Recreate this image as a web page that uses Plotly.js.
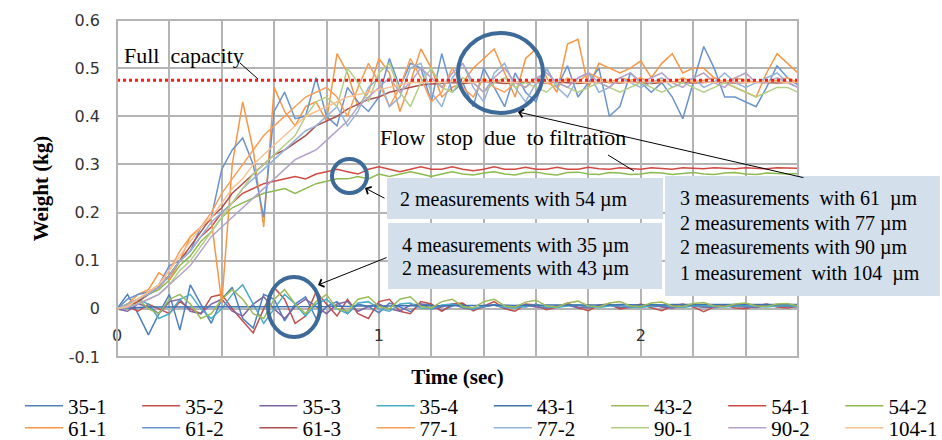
<!DOCTYPE html>
<html>
<head>
<meta charset="utf-8">
<script src="https://cdn.plot.ly/plotly-3.0.1.min.js"></script>
<style>html,body{margin:0;padding:0;background:#fff;}#chart{width:942px;height:440px;}</style>
</head>
<body>
<div id="chart"></div>
<script>
// ---------------- DATA ----------------
const timeSec = [
0,0.04,0.08,0.12,0.16,0.2,0.24,0.28,0.32,0.36,
0.4,0.44,0.48,0.52,0.56,0.6,0.64,0.68,0.72,0.76,
0.8,0.84,0.88,0.92,0.96,1,1.04,1.08,1.12,1.16,
1.2,1.24,1.28,1.32,1.36,1.4,1.44,1.48,1.52,1.56,
1.6,1.64,1.68,1.72,1.76,1.8,1.84,1.88,1.92,1.96,
2,2.04,2.08,2.12,2.16,2.2,2.24,2.28,2.32,2.36,
2.4,2.44,2.48,2.52,2.56,2.6];

const seriesNames = ['35-1','35-2','35-3','35-4','43-1','43-2','54-1','54-2',
                     '61-1','61-2','61-3','77-1','77-2','90-1','90-2','104-1'];

const w35_1 = [
0,0.03,-0.01,-0.054,-0.01,0.03,-0.044,0.05,0.01,-0.03,
0.02,0.045,-0.02,-0.04,0.03,0.02,-0.025,0.01,0.025,-0.02,
0.005,0.015,-0.01,0.01,0.005,-0.008,0.012,0.004,-0.006,0.01,
0.008,-0.004,0.006,0.01,0.0,0.004,0.008,0.002,0.006,0.004,
0.01,0.002,0.006,0.008,0.002,0.006,0.004,0.008,0.002,0.005,
0.008,0.004,0.006,0.003,0.007,0.005,0.004,0.006,0.008,0.005,
0.004,0.007,0.006,0.005,0.008,0.006];
const w35_2 = [
0,0.005,-0.005,0.01,0.0,-0.01,0.015,0.0,-0.01,0.025,
0.03,0.0,-0.025,-0.05,0.0,0.044,0.02,-0.03,-0.015,0.035,
0.01,-0.015,0.02,-0.01,-0.02,0.015,0.02,-0.005,-0.01,0.015,
0.01,-0.005,0.01,0.012,-0.004,0.006,0.015,0.0,-0.005,0.01,
0.008,-0.002,0.004,0.012,0.002,-0.004,0.008,0.01,0.0,0.004,
0.01,0.002,-0.004,0.006,0.01,0.004,-0.006,0.004,0.008,0.002,
0.0,0.006,0.01,0.004,0.002,0.006];
const w35_3 = [
0,-0.005,0.01,0.005,-0.01,0.015,0.02,-0.005,-0.01,0.01,
0.02,-0.005,-0.015,0.01,0.025,0.0,-0.02,0.005,0.02,0.005,
-0.01,0.01,0.015,-0.005,0.005,0.01,0.0,-0.005,0.008,0.01,
0.0,0.004,0.01,0.002,-0.002,0.006,0.008,0.002,0.004,0.008,
0.004,0.002,0.006,0.008,0.004,0.002,0.006,0.008,0.004,0.003,
0.006,0.008,0.004,0.002,0.006,0.007,0.004,0.003,0.006,0.008,
0.004,0.003,0.006,0.007,0.005,0.004];
const w35_4 = [
0,0.01,0.02,0.01,-0.02,-0.01,0.02,0.03,0.0,-0.02,
0.0,0.03,0.05,0.01,-0.03,0.0,0.03,0.01,-0.015,0.01,
0.02,0.0,-0.01,0.012,0.015,0.0,-0.005,0.01,0.012,0.002,
0.0,0.008,0.01,0.004,0.0,0.006,0.008,0.004,0.002,0.006,
0.008,0.004,0.003,0.006,0.008,0.005,0.003,0.006,0.007,0.004,
0.003,0.006,0.008,0.005,0.003,0.006,0.007,0.005,0.004,0.006,
0.007,0.005,0.004,0.006,0.007,0.005];
const w43_1 = [
0,0.002,0.003,0.004,0.004,0.005,0.004,0.005,0.004,0.005,
0.005,0.004,0.005,0.004,0.005,0.005,0.004,0.005,0.005,0.004,
0.005,0.006,0.005,0.006,0.006,0.005,0.006,0.007,0.006,0.006,
0.007,0.006,0.007,0.007,0.006,0.007,0.008,0.007,0.007,0.008,
0.007,0.008,0.008,0.007,0.008,0.008,0.007,0.008,0.009,0.008,
0.008,0.009,0.008,0.009,0.009,0.008,0.009,0.009,0.008,0.009,
0.009,0.008,0.009,0.009,0.008,0.009];
const w43_2 = [
0,0.01,0.02,0.0,-0.01,0.02,0.03,0.01,-0.02,-0.01,
0.02,0.04,0.02,-0.01,-0.02,0.02,0.04,0.01,-0.01,0.015,
0.03,0.0,-0.005,0.02,0.025,0.005,0.0,0.02,0.025,0.005,
0.002,0.015,0.02,0.005,0.002,0.015,0.02,0.006,0.004,0.014,
0.018,0.006,0.004,0.012,0.016,0.006,0.004,0.012,0.015,0.006,
0.005,0.012,0.014,0.006,0.005,0.011,0.013,0.006,0.005,0.01,
0.012,0.006,0.005,0.01,0.011,0.006];
const w54_1 = [
0,0.005,0.02,0.03,0.045,0.07,0.10,0.12,0.15,0.17,
0.20,0.22,0.24,0.25,0.26,0.265,0.27,0.275,0.27,0.28,
0.285,0.29,0.285,0.28,0.29,0.295,0.29,0.285,0.29,0.295,
0.29,0.29,0.295,0.29,0.287,0.29,0.295,0.29,0.29,0.294,
0.29,0.29,0.294,0.29,0.29,0.294,0.291,0.29,0.293,0.292,
0.29,0.293,0.292,0.29,0.293,0.292,0.291,0.293,0.292,0.291,
0.293,0.292,0.291,0.293,0.292,0.292];
const w54_2 = [
0,0.003,0.015,0.03,0.04,0.06,0.09,0.11,0.14,0.16,
0.19,0.21,0.22,0.23,0.24,0.245,0.25,0.24,0.25,0.26,
0.265,0.27,0.27,0.275,0.27,0.28,0.275,0.28,0.285,0.28,
0.275,0.28,0.285,0.28,0.278,0.282,0.285,0.28,0.278,0.283,
0.284,0.28,0.278,0.283,0.284,0.28,0.279,0.283,0.282,0.279,
0.28,0.283,0.282,0.279,0.281,0.283,0.28,0.279,0.282,0.283,
0.28,0.279,0.282,0.281,0.28,0.281];
const w61_1 = [
0,0.01,0.03,0.04,0.075,0.06,0.10,0.15,0.17,0.185,
0.012,0.30,0.43,0.33,0.17,0.46,0.41,0.38,0.42,0.43,
0.39,0.53,0.49,0.42,0.45,0.52,0.49,0.41,0.47,0.54,
0.50,0.44,0.46,0.47,0.50,0.52,0.54,0.49,0.44,0.52,
0.54,0.48,0.45,0.55,0.56,0.46,0.51,0.50,0.49,0.50,
0.515,0.48,0.51,0.53,0.49,0.50,0.50,0.48,0.47,0.46,
0.45,0.44,0.49,0.53,0.51,0.49];
const w61_2 = [
0,0.02,0.03,0.035,0.05,0.09,0.10,0.12,0.17,0.19,
0.29,0.33,0.355,0.30,0.19,0.41,0.45,0.395,0.40,0.48,
0.40,0.38,0.46,0.43,0.41,0.44,0.52,0.46,0.51,0.50,
0.43,0.53,0.45,0.47,0.42,0.50,0.46,0.42,0.49,0.45,
0.43,0.50,0.46,0.505,0.44,0.47,0.50,0.40,0.42,0.49,
0.47,0.45,0.47,0.44,0.395,0.47,0.545,0.50,0.44,0.44,
0.43,0.42,0.46,0.505,0.48,0.465];
const w61_3 = [
0,0.005,0.015,0.03,0.045,0.07,0.10,0.13,0.16,0.19,
0.21,0.24,0.26,0.28,0.30,0.32,0.33,0.345,0.36,0.38,
0.39,0.40,0.415,0.425,0.435,0.44,0.45,0.455,0.46,0.465,
0.467,0.468,0.47,0.468,0.47,0.472,0.47,0.468,0.47,0.471,
0.47,0.469,0.471,0.47,0.468,0.47,0.472,0.47,0.469,0.471,
0.47,0.468,0.47,0.471,0.47,0.469,0.47,0.471,0.47,0.469,
0.47,0.471,0.47,0.469,0.47,0.47];
const w77_1 = [
0,0.005,0.02,0.035,0.05,0.08,0.12,0.15,0.17,0.20,
0.24,0.27,0.30,0.33,0.36,0.38,0.40,0.42,0.44,0.45,
0.46,0.44,0.40,0.46,0.51,0.47,0.42,0.46,0.52,0.48,
0.43,0.45,0.50,0.46,0.44,0.48,0.46,0.45,0.47,0.46,
0.48,0.47,0.46,0.48,0.47,0.49,0.48,0.47,0.48,0.475,
0.48,0.47,0.475,0.47,0.48,0.47,0.475,0.48,0.47,0.48,
0.475,0.47,0.47,0.475,0.48,0.47];
const w77_2 = [
0,0.01,0.02,0.03,0.045,0.07,0.10,0.12,0.15,0.18,
0.20,0.22,0.25,0.27,0.29,0.31,0.33,0.35,0.37,0.38,
0.40,0.42,0.38,0.41,0.46,0.48,0.42,0.44,0.50,0.51,
0.45,0.42,0.48,0.51,0.46,0.43,0.49,0.51,0.46,0.43,
0.47,0.50,0.46,0.44,0.48,0.49,0.45,0.46,0.48,0.47,
0.46,0.47,0.48,0.46,0.47,0.48,0.46,0.47,0.49,0.47,
0.46,0.47,0.48,0.49,0.47,0.46];
const w90_1 = [
0,0.005,0.01,0.02,0.03,0.05,0.08,0.10,0.13,0.16,
0.19,0.22,0.25,0.28,0.30,0.32,0.34,0.36,0.40,0.43,
0.44,0.42,0.50,0.47,0.43,0.49,0.51,0.45,0.42,0.47,
0.50,0.46,0.45,0.48,0.47,0.45,0.47,0.48,0.46,0.47,
0.46,0.45,0.47,0.46,0.45,0.46,0.47,0.46,0.45,0.46,
0.47,0.46,0.45,0.46,0.47,0.46,0.45,0.46,0.47,0.46,
0.45,0.44,0.45,0.46,0.46,0.45];
const w90_2 = [
0,0.003,0.01,0.02,0.03,0.05,0.07,0.09,0.12,0.15,
0.17,0.19,0.21,0.23,0.25,0.27,0.29,0.31,0.32,0.33,
0.35,0.37,0.39,0.42,0.44,0.46,0.48,0.45,0.47,0.50,
0.48,0.46,0.49,0.51,0.47,0.45,0.48,0.50,0.47,0.46,
0.48,0.49,0.47,0.46,0.48,0.49,0.47,0.46,0.48,0.49,
0.47,0.48,0.49,0.47,0.46,0.48,0.49,0.47,0.46,0.48,
0.49,0.47,0.47,0.48,0.47,0.46];
const w104_1 = [
0,0.005,0.02,0.035,0.05,0.08,0.11,0.14,0.17,0.19,
0.22,0.25,0.27,0.30,0.32,0.34,0.36,0.38,0.40,0.41,
0.42,0.43,0.44,0.445,0.45,0.455,0.46,0.465,0.47,0.47,
0.472,0.47,0.473,0.471,0.47,0.472,0.474,0.471,0.47,0.473,
0.472,0.47,0.473,0.474,0.471,0.47,0.472,0.473,0.471,0.47,
0.472,0.473,0.471,0.47,0.472,0.474,0.471,0.47,0.473,0.472,
0.47,0.471,0.473,0.472,0.47,0.471];

const seriesValues = [w35_1,w35_2,w35_3,w35_4,w43_1,w43_2,w54_1,w54_2,
                      w61_1,w61_2,w61_3,w77_1,w77_2,w90_1,w90_2,w104_1];

const fullCapacity = 0.475;
const yTickVals = [-0.1,0,0.1,0.2,0.3,0.4,0.5,0.6];
const yTickText = ['-0.1','0','0.1','0.2','0.3','0.4','0.5','0.6'];
const xTickVals = [0,0.2,0.4,0.6,0.8,1,1.2,1.4,1.6,1.8,2,2.2,2.4,2.6];
const xTickText = ['0','','','','','1','','','','','2','','',''];

// ---------------- STYLE ----------------
const seriesColors = ['#4F81BD','#C0504D','#8064A2','#4BACC6','#3F72B0','#9BBB59','#CF4A45','#8DBA50',
                      '#F79646','#6A93CD','#A9514E','#F8A05A','#95B3D7','#B3CF86','#B3A2C7','#FAC090'];

const L = 117, R = 798, T = 20, B = 357;
const W = 942, H = 440;
const px = p => (p - L) / (R - L);
const py = p => (B - p) / (B - T);
const serif = 'Liberation Serif, Times New Roman, serif';
const gridCol = '#B4B4B4';

const traces = seriesValues.map((vals, j) => ({
  type: 'scatter', mode: 'lines', name: seriesNames[j],
  x: timeSec, y: vals,
  line: {color: seriesColors[j], width: 1.5},
  legend: j === 0 ? 'legend' : 'legend' + (j + 1),
  hoverinfo: 'skip'
}));
traces.push({
  type: 'scatter', mode: 'lines', name: 'Full capacity', showlegend: false,
  x: [timeSec[0], timeSec[timeSec.length - 1]], y: [fullCapacity, fullCapacity],
  line: {color: '#FF1A1A', width: 3, dash: 'dot'}, hoverinfo: 'skip'
});

const layout = {
  width: W, height: H,
  margin: {l: L, r: W - R, t: T, b: H - B, autoexpand: false},
  paper_bgcolor: '#fff', plot_bgcolor: '#fff',
  showlegend: true,
  xaxis: {
    range: [0, 2.6], tickmode: 'array', tickvals: xTickVals, ticktext: xTickText,
    anchor: 'free', position: 1 / 7, automargin: false,
    showgrid: true, gridcolor: gridCol, gridwidth: 2,
    zeroline: false, showline: false, ticks: '',
    ticklabelstandoff: 15,
    tickfont: {family: 'DejaVu Sans', size: 16, color: '#333'},
    title: {text: 'Time (sec)', font: {family: serif, size: 21, color: '#000', weight: 'bold'}, standoff: 25}
  },
  yaxis: {
    range: [-0.1, 0.6], tickmode: 'array', tickvals: yTickVals, ticktext: yTickText,
    automargin: false,
    showgrid: true, gridcolor: gridCol, gridwidth: 2,
    zeroline: false, showline: false, ticks: '',
    ticklabelstandoff: 16,
    tickfont: {family: 'DejaVu Sans', size: 16, color: '#333'},
    title: {text: 'Weight (kg)', font: {family: serif, size: 21, color: '#000', weight: 'bold'}, standoff: 14}
  },
  shapes: [
    {type: 'rect', xref: 'paper', yref: 'paper', x0: 0, x1: 1, y0: 0, y1: 1, line: {color: gridCol, width: 2}},
    // circles
    {type: 'circle', xref: 'paper', yref: 'paper', x0: px(458), x1: px(543), y0: py(113), y1: py(33), line: {color: '#3D6A98', width: 4}},
    {type: 'circle', xref: 'paper', yref: 'paper', x0: px(332), x1: px(367), y0: py(193), y1: py(159), line: {color: '#3D6A98', width: 4}},
    {type: 'circle', xref: 'paper', yref: 'paper', x0: px(268), x1: px(320), y0: py(337), y1: py(277), line: {color: '#3D6A98', width: 4}},
    // info boxes
    {type: 'rect', xref: 'paper', yref: 'paper', x0: px(387), x1: px(663), y0: py(219), y1: py(178), fillcolor: '#D3DFEB', line: {width: 0}},
    {type: 'rect', xref: 'paper', yref: 'paper', x0: px(388), x1: px(662), y0: py(289), y1: py(223), fillcolor: '#D3DFEB', line: {width: 0}},
    {type: 'rect', xref: 'paper', yref: 'paper', x0: px(665), x1: px(940), y0: py(296), y1: py(176), fillcolor: '#D3DFEB', line: {width: 0}},
    // pointer lines
    {type: 'line', xref: 'paper', yref: 'paper', x0: px(240), x1: px(258), y0: py(63), y1: py(79), line: {color: '#000', width: 1}},
    {type: 'line', xref: 'paper', yref: 'paper', x0: px(608), x1: px(634), y0: py(155), y1: py(171), line: {color: '#000', width: 1}}
  ],
  annotations: []
};

const ann = layout.annotations;
function addText(txt, xl, yc, size) {
  ann.push({xref: 'paper', yref: 'paper', x: px(xl), y: py(yc), xanchor: 'left', yanchor: 'middle',
            text: txt, showarrow: false, font: {family: serif, size: size, color: '#000'}});
}
function addArrow(hx, hy, tx, ty) {
  ann.push({xref: 'paper', yref: 'paper', x: px(hx), y: py(hy), ax: tx - hx, ay: ty - hy, text: '',
            showarrow: true, arrowhead: 4, arrowsize: 1.6, arrowwidth: 1, arrowcolor: '#000'});
}
addText('Full&nbsp;&nbsp;capacity', 122, 55, 22);
addText('Flow&nbsp;&nbsp;stop&nbsp; due&nbsp; to filtration', 378, 137, 22);
addText('2 measurements with 54 µm', 398, 199, 20);
addText('4 measurements with 35 µm', 400, 245, 20);
addText('2 measurements with 43 µm', 400, 268, 20);
addText('3 measurements&nbsp; with 61&nbsp; µm', 678, 198, 20);
addText('2 measurements with 77 µm', 678, 223, 20);
addText('2 measurements with 90 µm', 678, 247, 20);
addText('1 measurement&nbsp; with 104&nbsp; µm', 678, 273, 20);
addArrow(518, 112, 805, 178);
addArrow(365, 188, 386, 199);
addArrow(318, 285, 388, 257);

// legends: 8 columns x 2 rows
seriesNames.forEach((nm, j) => {
  const col = j % 8, row = Math.floor(j / 8);
  const key = j === 0 ? 'legend' : 'legend' + (j + 1);
  layout[key] = {
    x: px(20 + 117.2 * col), y: py(406 + 22 * row), xanchor: 'left', yanchor: 'middle',
    orientation: 'v', bgcolor: 'rgba(0,0,0,0)', borderwidth: 0,
    font: {family: serif, size: 21, color: '#000'}, itemwidth: 38
  };
});

Plotly.newPlot('chart', traces, layout, {displayModeBar: false, staticPlot: true});
</script>
</body>
</html>
